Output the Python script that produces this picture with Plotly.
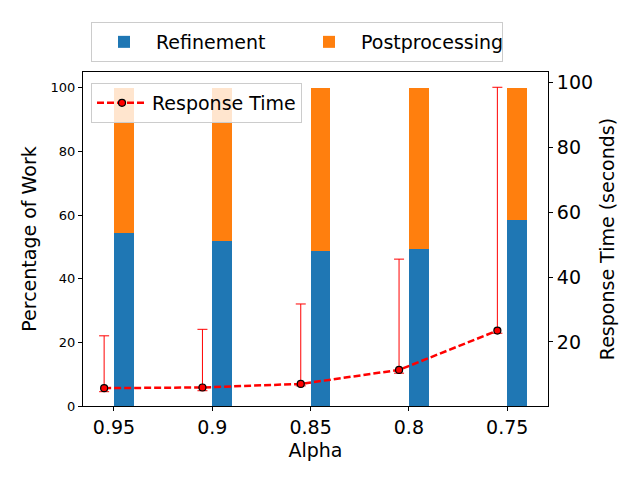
import plotly.graph_objects as go

alphas = ["0.95", "0.9", "0.85", "0.8", "0.75"]
refinement = [54.5, 51.8, 48.6, 49.5, 58.6]
postprocessing = [100 - v for v in refinement]
resp_time = [5.8, 6.0, 7.1, 11.4, 23.5]
resp_low = [4.7, 5.0, 6.5, 10.4, 22.7]
resp_high = [21.9, 23.9, 31.7, 45.5, 98.4]

idx = list(range(len(alphas)))
bar_x = [i + 0.1 for i in idx]
pt_x = [i - 0.1 for i in idx]
err_plus = [h - v for h, v in zip(resp_high, resp_time)]
err_minus = [v - l for l, v in zip(resp_low, resp_time)]

font = "DejaVu Sans"
fig = go.Figure()
fig.add_trace(go.Bar(x=bar_x, y=refinement, width=0.2, name="Refinement",
                     marker=dict(color="#1f77b4", line=dict(width=0)), legend="legend"))
fig.add_trace(go.Bar(x=bar_x, y=postprocessing, width=0.2, name="Postprocessing",
                     marker=dict(color="#ff7f0e", line=dict(width=0)), legend="legend"))
fig.add_trace(go.Scatter(x=pt_x, y=resp_time, name="Response Time", yaxis="y2",
                         mode="lines+markers",
                         line=dict(color="red", width=2.5, dash="7px,3px"),
                         marker=dict(color="red", size=7, line=dict(color="black", width=1.2)),
                         error_y=dict(type="data", symmetric=False, array=err_plus,
                                      arrayminus=err_minus, color="red", thickness=1, width=5),
                         legend="legend2"))

fig.update_layout(
    width=640, height=480, barmode="stack",
    paper_bgcolor="white", plot_bgcolor="white",
    margin=dict(l=83, r=92, t=72, b=74, autoexpand=False),
    font=dict(family=font, color="black"),
    xaxis=dict(range=[-0.315, 4.415], tickvals=idx, ticktext=alphas,
               tickfont=dict(size=19), showgrid=False, zeroline=False,
               showline=True, linecolor="black", linewidth=1, mirror=True,
               ticks="outside", ticklen=4, tickcolor="black", automargin=False,
               title=dict(text="Alpha", font=dict(size=19), standoff=6)),
    yaxis=dict(range=[0, 105], tickvals=[0, 20, 40, 60, 80, 100],
               tickfont=dict(size=13), showgrid=False, zeroline=False,
               showline=True, linecolor="black", linewidth=1, automargin=False,
               ticks="outside", ticklen=4, tickcolor="black",
               title=dict(text="Percentage of Work", font=dict(size=19), standoff=8)),
    yaxis2=dict(range=[0.3, 103.1], overlaying="y", side="right",
                tickvals=[20, 40, 60, 80, 100], tickfont=dict(size=19),
                showgrid=False, zeroline=False, automargin=False,
                showline=True, linecolor="black", linewidth=1,
                ticks="outside", ticklen=4, tickcolor="black",
                title=dict(text="Response Time (seconds)", font=dict(size=19), standoff=8)),
    legend=dict(orientation="h", x=8 / 465, y=(406 - 22) / 334,
                xanchor="left", yanchor="top",
                entrywidth=136, entrywidthmode="pixels", itemwidth=54,
                font=dict(size=19), bgcolor="rgba(255,255,255,0.8)",
                bordercolor="#cccccc", borderwidth=1, traceorder="normal"),
    legend2=dict(x=8 / 465, y=(406 - 83) / 334, xanchor="left", yanchor="top", itemwidth=50,
                 font=dict(size=19), bgcolor="rgba(255,255,255,0.8)",
                 bordercolor="#cccccc", borderwidth=1),
)
fig.write_html("out.html", config={"displayModeBar": False},
               post_script="document.body.style.margin='0';")
